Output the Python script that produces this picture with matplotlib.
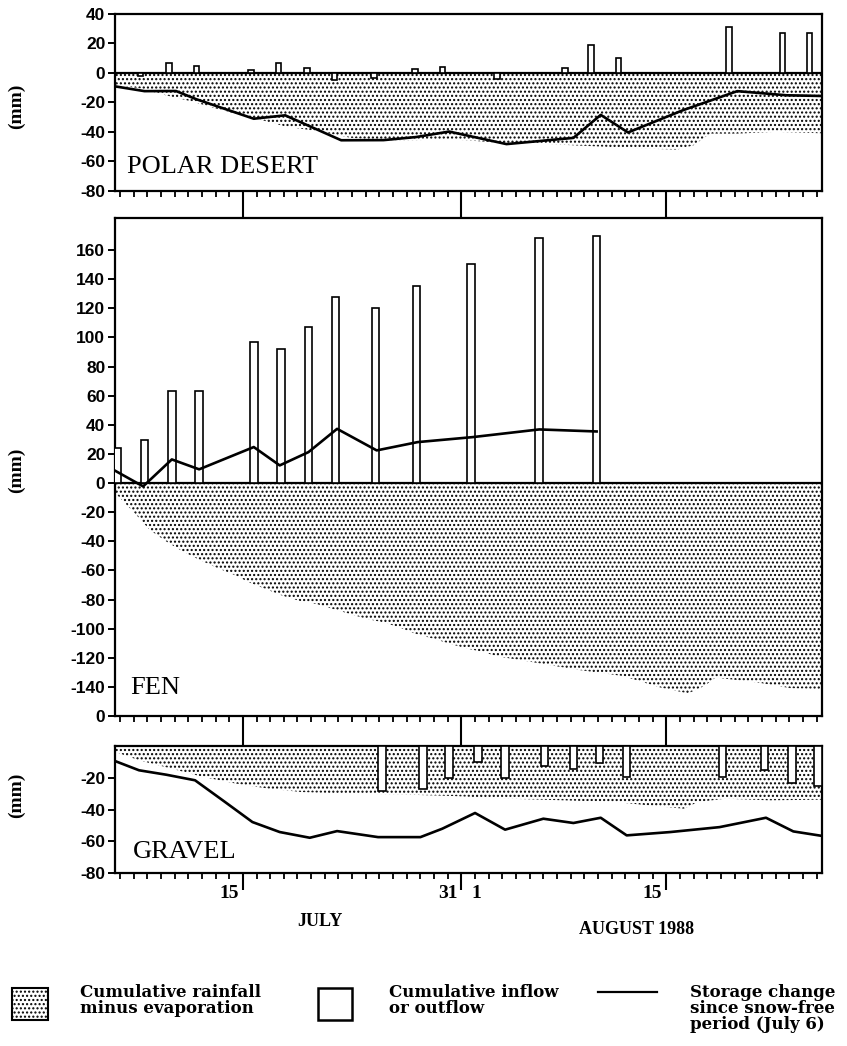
import numpy as np
import matplotlib
matplotlib.use("Agg")
import matplotlib.pyplot as plt
from matplotlib.patches import Rectangle

W, H = 847, 1046

# x values are days of July (August n is written as 31 + n)
polar_bar_day = [7.5, 9.6, 11.6, 15.6, 17.6, 19.7, 21.7, 24.6, 27.6, 29.6, 33.6,
                 38.6, 40.5, 42.5, 50.6, 54.5, 56.5]
polar_bar_mm = [-2, 6.5, 4.5, 2, 7, 3.5, -5, -3.5, 2.7, 4.3, -4, 3.6, 19, 10, 31, 27, 27]
polar_line_day = [5.6, 7.8, 10.1, 11.6, 15.8, 18.1, 22.2, 25.3, 27.7, 30.1, 34.3,
                  39.2, 41.2, 43.2, 47.2, 51.2, 54.8, 57.5]
polar_line_mm = [-9, -12.3, -12.2, -17.8, -31, -28.7, -45.6, -45.5, -43.4, -39.7, -48.2,
                 -44, -28.4, -40.3, -25.3, -12.3, -15.1, -15.6]
polar_rain_day = [5.6, 7.4, 9.4, 11.4, 13.4, 15.8, 18.1, 20.5, 22.9, 25.3, 27.7, 30.1,
                  32.5, 34.9, 37.2, 39.6, 42.0, 44.4, 46.8, 48.0, 49.2, 51.2, 54.0, 57.5]
polar_rain_mm = [-8.1, -10.3, -15.2, -19.6, -25.1, -30.5, -36.2, -39.5, -43.9, -45.7,
                 -45.6, -44.9, -46.4, -48.2, -48.1, -49.2, -50.2, -51.3, -51.9, -49,
                 -41.1, -41.1, -39.9, -40.9]

fen_bar_day = [5.8, 7.8, 9.8, 11.8, 15.8, 17.8, 19.8, 21.8, 24.7, 27.7, 31.7, 36.7, 40.9]
fen_bar_mm = [24, 29.5, 63, 63, 97, 92, 107, 127.5, 120, 135.5, 150.5, 168, 169.5]
fen_line_day = [5.6, 7.7, 9.8, 11.8, 15.8, 17.7, 19.8, 21.9, 24.8, 27.8, 31.8, 36.7, 40.9]
fen_line_mm = [8.7, -2.3, 16.2, 9.4, 24.7, 12.1, 21.2, 37.2, 22.4, 28.1, 31.5, 36.8, 35.4]
fen_rain_day = [5.6, 7.0, 8.2, 9.4, 10.6, 11.8, 13.1, 14.3, 15.5, 16.7, 17.9, 19.1, 20.4,
                21.6, 22.8, 24.0, 25.2, 26.4, 27.6, 28.9, 30.1, 31.3, 32.5, 33.7, 35.2,
                39.3, 42.8, 45.6, 47.6, 48.8, 49.6, 52.7, 55.1, 57.5]
fen_rain_mm = [-6.3, -19.9, -32.3, -40.2, -47, -52.6, -58.2, -62.8, -68.4, -72.9, -77.4,
               -80.8, -83.1, -86.5, -89.8, -93.2, -95.5, -98.9, -103.4, -106.8, -110.2,
               -113.5, -115.8, -119.2, -121.4, -128, -132.5, -140.5, -144.5, -139.3,
               -133.6, -137, -140.9, -141.6]

gravel_bar_day = [25.2, 28.2, 30.1, 32.2, 34.2, 37.1, 39.2, 41.1, 43.1, 50.1, 53.2, 55.2, 57.1]
gravel_bar_mm = [-28.5, -27, -20, -10, -20, -12.5, -14.5, -11, -19.5, -19.5, -15, -23, -25]
gravel_line_day = [5.5, 7.4, 9.4, 11.5, 13.7, 15.7, 17.7, 19.9, 21.9, 24.9, 28.0, 29.6,
                   32.0, 34.2, 37.0, 39.2, 41.2, 43.1, 46.3, 49.9, 53.3, 55.3, 57.6]
gravel_line_mm = [-9, -15.3, -18.1, -21.6, -35.3, -47.9, -54.2, -57.8, -53.6, -57.4, -57.4,
                  -52.1, -42.2, -52.7, -45.8, -48.5, -45.2, -56.3, -54.2, -51.1, -45.2,
                  -53.8, -56.9]
gravel_rain_day = [5.5, 7.4, 9.8, 12.1, 14.5, 16.9, 19.3, 22.5, 26.4, 30.4, 34.4, 38.4,
                   42.3, 44.7, 47.3, 48.3, 50.3, 53.5, 57.6]
gravel_rain_mm = [-3.2, -9, -14.3, -19.5, -23.7, -26.9, -29, -30, -30.5, -31.5, -33.2,
                  -34.2, -35.3, -37.4, -39.5, -35.3, -33.2, -34.2, -33.8]

major_days = [15, 31, 46]
minor_days = [d for d in range(6, 58) if d not in major_days]
xlabel_day = [15, 31, 32, 46]
xlabel_text = ["15", "31", "1", "15"]

plt.rcParams["axes.unicode_minus"] = False
plt.rcParams["hatch.color"] = "black"
plt.rcParams["hatch.linewidth"] = 1.0

SERIF = "Liberation Serif"
TICKFONT = "Liberation Sans"

fig = plt.figure(figsize=(W / 100, H / 100), dpi=100)

# full-figure overlay in pixel coordinates for free text and the legend
over = fig.add_axes([0, 0, 1, 1])
over.set_xlim(0, W)
over.set_ylim(H, 0)
over.axis("off")


def px_axes(left, top, right, bottom):
    return fig.add_axes([left / W, 1 - bottom / H, (right - left) / W, (bottom - top) / H])


def style(ax, ylim, yticks, ylabels, major_len):
    ax.set_xlim(5.64, 57.4)
    ax.set_ylim(*ylim)
    ax.set_yticks(yticks)
    ax.set_yticklabels(ylabels)
    ax.set_xticks(major_days)
    ax.set_xticks(minor_days, minor=True)
    ax.tick_params(axis="x", which="major", direction="out", length=major_len, width=1.5,
                   labelbottom=False)
    ax.tick_params(axis="x", which="minor", direction="out", length=4.5, width=1.3)
    ax.tick_params(axis="y", direction="out", length=5, width=1.4, pad=2)
    for lab in ax.get_yticklabels():
        lab.set_fontfamily(TICKFONT)
        lab.set_fontweight("bold")
        lab.set_fontsize(12.5)
    for s in ax.spines.values():
        s.set_linewidth(1.6)


def panel(ax, rain_d, rain_v, bar_d, bar_v, bar_w, line_d, line_v):
    ax.fill_between(rain_d, 0, rain_v, facecolor="white", edgecolor="black",
                    hatch="....", linewidth=0, zorder=1)
    ax.bar(bar_d, bar_v, width=bar_w, facecolor="white", edgecolor="black",
           linewidth=1.2, zorder=3)
    ax.plot(line_d, line_v, color="black", linewidth=1.9, zorder=4)


# POLAR DESERT
ax1 = px_axes(115, 14, 822, 191)
panel(ax1, polar_rain_day, polar_rain_mm, polar_bar_day, polar_bar_mm, 0.4,
      polar_line_day, polar_line_mm)
ax1.axhline(0, color="black", linewidth=1.6, zorder=2)
style(ax1, (-80, 40), [40, 20, 0, -20, -40, -60, -80],
      ["40", "20", "0", "-20", "-40", "-60", "-80"], 19.5)
ax1.text(0.017, 0.1, "POLAR DESERT", transform=ax1.transAxes, fontfamily=SERIF,
         fontsize=19, va="baseline", ha="left")

# FEN
ax2 = px_axes(115, 218, 822, 716)
panel(ax2, fen_rain_day, fen_rain_mm, fen_bar_day, fen_bar_mm, 0.55,
      fen_line_day, fen_line_mm)
ax2.axhline(0, color="black", linewidth=1.6, zorder=2)
fen_ticks = list(range(160, -161, -20))
style(ax2, (-160, 182), fen_ticks, [str(v) for v in fen_ticks[:-1]] + ["0"], 21.6)
ax2.text(0.021, 0.045, "FEN", transform=ax2.transAxes, fontfamily=SERIF,
         fontsize=19, va="baseline", ha="left")

# GRAVEL
ax3 = px_axes(115, 746, 822, 873)
panel(ax3, gravel_rain_day, gravel_rain_mm, gravel_bar_day, gravel_bar_mm, 0.55,
      gravel_line_day, gravel_line_mm)
style(ax3, (-80, 0), [-20, -40, -60, -80], ["-20", "-40", "-60", "-80"], 12)
ax3.text(0.025, 0.12, "GRAVEL", transform=ax3.transAxes, fontfamily=SERIF,
         fontsize=19, va="baseline", ha="left")

for d, t in zip(xlabel_day, xlabel_text):
    ha = "center" if t == "1" else "right"
    dx = 1 if t == "1" else -3
    ax3.annotate(t, xy=(d, 0), xycoords=("data", "axes fraction"), xytext=(dx, -18),
                 textcoords="offset points", ha=ha, va="baseline", fontfamily=SERIF,
                 fontweight="bold", fontsize=14)

# axis labels
for yc in (106, 470, 795):
    over.text(16, yc, "(mm)", rotation=90, ha="center", va="center", fontfamily=SERIF,
              fontweight="bold", fontsize=14)
over.text(320, 922, "JULY", ha="center", va="center", fontfamily=SERIF,
          fontweight="bold", fontsize=13)
over.text(637, 930, "AUGUST 1988", ha="center", va="center", fontfamily=SERIF,
          fontweight="bold", fontsize=13)

# legend
over.add_patch(Rectangle((12, 988), 36, 32, facecolor="white", edgecolor="black",
                         hatch="....", linewidth=1.5))
over.add_patch(Rectangle((318, 988), 34, 32, facecolor="white", edgecolor="black",
                         linewidth=1.8))
over.plot([598, 657], [992, 992], color="black", linewidth=1.6)
leg_kw = dict(ha="left", va="top", fontfamily="DejaVu Serif", fontweight="bold",
              fontsize=12, linespacing=0.92)
over.text(80, 984, "Cumulative rainfall\nminus evaporation", **leg_kw)
over.text(389, 984, "Cumulative inflow\nor outflow", **leg_kw)
over.text(690, 984, "Storage change\nsince snow-free\nperiod (July 6)", **leg_kw)

fig.savefig("out.png", dpi=100)
